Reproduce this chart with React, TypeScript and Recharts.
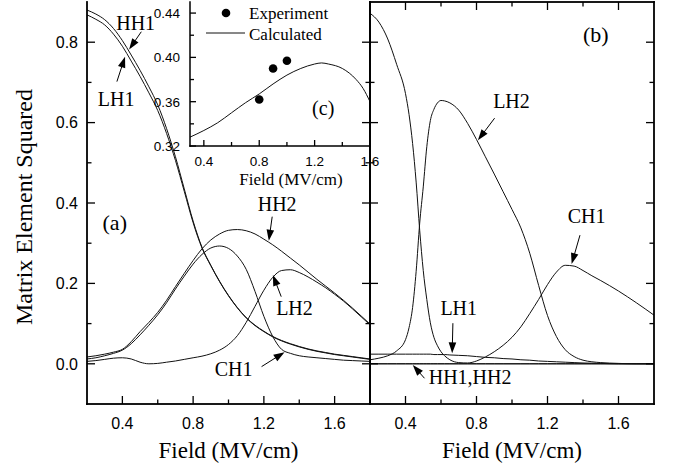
import React from 'react';
import {
  LineChart,
  ComposedChart,
  Line,
  Scatter,
  XAxis,
  YAxis,
  ReferenceLine,
  ReferenceDot,
  Legend,
} from 'recharts';

// ---------------- Panel (a) data ----------------
const fieldA = [0.2, 0.25, 0.3, 0.35, 0.4, 0.45, 0.5, 0.55, 0.6, 0.65, 0.7, 0.75, 0.8, 0.85, 0.9, 0.95, 1.0, 1.05, 1.1, 1.15, 1.2, 1.25, 1.3, 1.35, 1.4, 1.45, 1.5, 1.55, 1.6, 1.65, 1.7, 1.75, 1.8];
const hh1A = [0.880, 0.870, 0.856, 0.834, 0.804, 0.768, 0.730, 0.689, 0.644, 0.585, 0.515, 0.435, 0.355, 0.290, 0.245, 0.205, 0.170, 0.140, 0.115, 0.096, 0.081, 0.068, 0.058, 0.050, 0.043, 0.037, 0.032, 0.028, 0.024, 0.021, 0.018, 0.015, 0.012];
const lh1A = [0.868, 0.857, 0.843, 0.820, 0.790, 0.753, 0.715, 0.674, 0.630, 0.573, 0.506, 0.429, 0.351, 0.288, 0.244, 0.204, 0.169, 0.139, 0.114, 0.095, 0.080, 0.067, 0.057, 0.049, 0.042, 0.036, 0.031, 0.027, 0.023, 0.020, 0.017, 0.014, 0.011];
const hh2A = [0.017, 0.020, 0.024, 0.029, 0.036, 0.055, 0.080, 0.103, 0.128, 0.158, 0.192, 0.225, 0.257, 0.286, 0.308, 0.323, 0.332, 0.334, 0.331, 0.323, 0.310, 0.296, 0.280, 0.263, 0.246, 0.228, 0.210, 0.193, 0.176, 0.158, 0.139, 0.119, 0.099];
const ch1A = [0.012, 0.015, 0.020, 0.026, 0.034, 0.050, 0.072, 0.096, 0.122, 0.152, 0.186, 0.218, 0.248, 0.272, 0.288, 0.293, 0.287, 0.268, 0.235, 0.180, 0.118, 0.068, 0.036, 0.026, 0.020, 0.017, 0.015, 0.013, 0.011, 0.009, 0.008, 0.007, 0.006];
const lh2A = [0.006, 0.008, 0.011, 0.014, 0.015, 0.012, 0.004, 0.000, 0.001, 0.004, 0.007, 0.011, 0.015, 0.019, 0.025, 0.034, 0.048, 0.070, 0.103, 0.143, 0.183, 0.215, 0.232, 0.234, 0.227, 0.216, 0.203, 0.189, 0.173, 0.156, 0.137, 0.117, 0.097];

// ---------------- Panel (b) data ----------------
const fieldB = [0.2, 0.25, 0.3, 0.35, 0.4, 0.42, 0.44, 0.46, 0.48, 0.5, 0.52, 0.54, 0.56, 0.58, 0.6, 0.62, 0.65, 0.7, 0.75, 0.8, 0.85, 0.9, 0.95, 1.0, 1.05, 1.1, 1.15, 1.2, 1.25, 1.3, 1.35, 1.4, 1.45, 1.5, 1.6, 1.7, 1.8];
const ch1B = [0.872, 0.850, 0.808, 0.745, 0.672, 0.620, 0.548, 0.452, 0.332, 0.232, 0.160, 0.102, 0.066, 0.045, 0.030, 0.020, 0.010, 0.003, 0.002, 0.007, 0.017, 0.030, 0.046, 0.066, 0.092, 0.125, 0.160, 0.197, 0.228, 0.245, 0.243, 0.232, 0.219, 0.207, 0.181, 0.152, 0.121];
const lh2B = [0.010, 0.014, 0.020, 0.032, 0.060, 0.090, 0.140, 0.230, 0.350, 0.440, 0.540, 0.605, 0.633, 0.649, 0.655, 0.654, 0.649, 0.631, 0.598, 0.558, 0.515, 0.472, 0.428, 0.384, 0.338, 0.275, 0.195, 0.120, 0.068, 0.035, 0.018, 0.009, 0.005, 0.003, 0.001, 0.000, 0.000];
const lh1B = [0.024, 0.024, 0.024, 0.024, 0.024, 0.024, 0.024, 0.024, 0.024, 0.024, 0.024, 0.024, 0.023, 0.023, 0.023, 0.023, 0.022, 0.021, 0.020, 0.018, 0.016, 0.015, 0.013, 0.012, 0.010, 0.009, 0.007, 0.006, 0.005, 0.004, 0.003, 0.002, 0.0015, 0.001, 0.000, 0.000, 0.000];
const hh1B = [0, 0, 0, 0, 0, 0, 0, 0, 0, 0, 0, 0, 0, 0, 0, 0, 0, 0, 0, 0, 0, 0, 0, 0, 0, 0, 0, 0, 0, 0, 0, 0, 0, 0, 0, 0, 0];
const hh2B = [0, 0, 0, 0, 0, 0, 0, 0, 0, 0, 0, 0, 0, 0, 0, 0, 0, 0, 0, 0, 0, 0, 0, 0, 0, 0, 0, 0, 0, 0, 0, 0, 0, 0, 0, 0, 0];

// ---------------- Inset (c) data ----------------
const fieldC = [0.3, 0.4, 0.5, 0.6, 0.7, 0.8, 0.9, 1.0, 1.1, 1.2, 1.25, 1.3, 1.4, 1.5, 1.55, 1.6];
const calculatedC = [0.328, 0.334, 0.341, 0.350, 0.359, 0.367, 0.376, 0.384, 0.390, 0.394, 0.395, 0.394, 0.390, 0.380, 0.372, 0.360];
const expField = [0.8, 0.9, 1.0];
const expValue = [0.362, 0.390, 0.397];

// ---------------- Axes / ticks ----------------
const mainXDomain = [0.2, 1.8];
const mainYDomain = [-0.1, 0.9];
const insetXDomain = [0.3, 1.6];
const insetYDomain = [0.32, 0.45];
const mainXTicks = [0.4, 0.6, 0.8, 1.0, 1.2, 1.4, 1.6];
const mainXLabels = [0.4, 0.8, 1.2, 1.6];
const mainYTicks = [0, 0.1, 0.2, 0.3, 0.4, 0.5, 0.6, 0.7, 0.8];
const mainYLabels = [0, 0.2, 0.4, 0.6, 0.8];
const insetXTicks = [0.4, 0.6, 0.8, 1.0, 1.2, 1.4, 1.6];
const insetXLabels = [0.4, 0.8, 1.2, 1.6];
const insetYTicks = [0.32, 0.34, 0.36, 0.38, 0.40, 0.42, 0.44];
const insetYLabels = [0.32, 0.36, 0.40, 0.44];

// ---------------- Annotations (data coordinates) ----------------
const annotationsA = [
  { text: 'HH1', tx: 0.475, ty: 0.848, tail: [0.507, 0.826], tip: [0.438, 0.782] },
  { text: 'LH1', tx: 0.365, ty: 0.659, tail: [0.369, 0.702], tip: [0.415, 0.764] },
  { text: 'HH2', tx: 1.275, ty: 0.398, tail: [1.247, 0.366], tip: [1.228, 0.306] },
  { text: 'LH2', tx: 1.373, ty: 0.140, tail: [1.298, 0.167], tip: [1.251, 0.221] },
  { text: 'CH1', tx: 1.029, ty: -0.013, tail: [1.187, -0.007], tip: [1.317, 0.029] },
];
const annotationsB = [
  { text: 'LH2', tx: 0.997, ty: 0.654, tail: [0.902, 0.611], tip: [0.808, 0.556] },
  { text: 'CH1', tx: 1.42, ty: 0.368, tail: [1.383, 0.320], tip: [1.336, 0.248] },
  { text: 'LH1', tx: 0.70, ty: 0.138, tail: [0.667, 0.101], tip: [0.663, 0.026] },
  { text: 'HH1,HH2', tx: 0.764, ty: -0.032, tail: [0.507, -0.036], tip: [0.441, -0.003] },
];

const tableA = fieldA.map((x, i) => ({ x, hh1: hh1A[i], lh1: lh1A[i], hh2: hh2A[i], ch1: ch1A[i], lh2: lh2A[i] }));
const tableB = fieldB.map((x, i) => ({ x, ch1: ch1B[i], lh2: lh2B[i], lh1: lh1B[i], hh1: hh1B[i], hh2: hh2B[i] }));
const tableC = fieldC.map((x, i) => ({ x, y: calculatedC[i] }));
const tableExp = expField.map((x, i) => ({ x, y: expValue[i] }));

// ---------------- Layout (chart boxes and their margins) ----------------
const layoutA = { left: 0, width: 372, height: 464, margin: { top: 2, right: 2, bottom: 0, left: 0 }, yAxisW: 87, xAxisH: 60 };
const layoutB = { left: 368, width: 306, height: 464, margin: { top: 2, right: 20, bottom: 0, left: 2 }, yAxisW: 0, xAxisH: 60 };
const layoutC = { left: 150, width: 234, height: 200, margin: { top: 2, right: 14, bottom: 0, left: 0 }, yAxisW: 40, xAxisH: 54 };
const plotBox = (l: typeof layoutA) => ({
  L: l.left + l.margin.left + l.yAxisW,
  R: l.left + l.width - l.margin.right,
  T: l.margin.top,
  B: l.height - l.margin.bottom - l.xAxisH,
});

const SERIF = '"Liberation Serif", "Times New Roman", Times, serif';
const SANS = '"Liberation Sans", Arial, Helvetica, sans-serif';
const INK = '#000';
const CURVE = '#111';

const near = (arr: number[], v: number) => arr.some((a) => Math.abs(a - v) < 1e-6);

function makeLabel(orient: 'left' | 'bottom', labels: number[], fontSize: number, gap: number, digits: number) {
  return function TickLabel(props: any) {
    const x = Number(props.x);
    const y = Number(props.y);
    const v = Number(props.payload && props.payload.value);
    if (!near(labels, v)) return <g />;
    const txt = v.toFixed(digits);
    if (orient === 'left') {
      return (
        <text x={x - gap} y={y} dy="0.36em" textAnchor="end" fontFamily={SANS} fontSize={fontSize} fill={INK}>
          {txt}
        </text>
      );
    }
    return (
      <text x={x} y={y + gap} textAnchor="middle" fontFamily={SANS} fontSize={fontSize} fill={INK}>
        {txt}
      </text>
    );
  };
}

const mainLeftLabel = makeLabel('left', mainYLabels, 16, 9, 1);
const mainBottomLabel = makeLabel('bottom', mainXLabels, 16, 25, 1);
const insetLeftLabel = makeLabel('left', insetYLabels, 13.5, 10, 2);
const insetBottomLabel = makeLabel('bottom', insetXLabels, 13.5, 20, 1);

function XTitle(props: any) {
  const vb = props.viewBox || {};
  const cx = (vb.x ?? 0) + (vb.width ?? 0) / 2 + (props.shift ?? 0);
  const by = (vb.y ?? 0) + props.baseline;
  return (
    <text x={cx} y={by} textAnchor="middle" fontFamily={SERIF} fontSize={props.size} fill={INK}>
      {props.text}
    </text>
  );
}

function YTitle(props: any) {
  const vb = props.viewBox || {};
  const cx = (vb.x ?? 0) + props.inset;
  const cy = (vb.y ?? 0) + (vb.height ?? 0) / 2 + (props.shift ?? 0);
  return (
    <text
      x={cx}
      y={cy}
      transform={`rotate(-90, ${cx}, ${cy})`}
      textAnchor="middle"
      fontFamily={SERIF}
      fontSize={props.size}
      fill={INK}
    >
      {props.text}
    </text>
  );
}

const ok = (p: any) => [p.x1, p.y1, p.x2, p.y2].every((v: any) => Number.isFinite(v));

const ArrowShape = (p: any) => {
  if (!ok(p)) return null;
  const { x1, y1, x2, y2 } = p;
  const dx = x2 - x1;
  const dy = y2 - y1;
  const L = Math.hypot(dx, dy) || 1;
  const ux = dx / L;
  const uy = dy / L;
  const hl = 11;
  const hw = 3.8;
  const bx = x2 - ux * hl;
  const by = y2 - uy * hl;
  return (
    <g>
      <line x1={x1} y1={y1} x2={bx + ux} y2={by + uy} stroke={INK} strokeWidth={1} />
      <polygon points={`${x2},${y2} ${bx - uy * hw},${by + ux * hw} ${bx + uy * hw},${by - ux * hw}`} fill={INK} />
    </g>
  );
};

interface BoxSpec {
  xd: number[];
  yd: number[];
  xTicks: number[];
  xMajors: number[];
  yTicks: number[];
  yMajors: number[];
  sides: { l?: boolean; r?: boolean; t?: boolean; b?: boolean };
  tickSides: { l?: boolean; r?: boolean; t?: boolean; b?: boolean };
  majorLen: number;
  minorLen: number;
  width: number;
}

// Frame and inward tick marks of one plot box, drawn as filled rectangles
// (same linear mapping as the chart's axes).
function FrameBox(props: { box: { L: number; R: number; T: number; B: number }; s: BoxSpec; id: string }) {
  const { box, s, id } = props;
  const { L, R, T, B } = box;
  const sx = (v: number) => L + ((v - s.xd[0]) / (s.xd[1] - s.xd[0])) * (R - L);
  const sy = (v: number) => B + ((v - s.yd[0]) / (s.yd[1] - s.yd[0])) * (T - B);
  const parts: any[] = [];
  const tw = 1.3;
  const w = s.width;
  const tl = (v: number, maj: number[]) => (near(maj, v) ? s.majorLen : s.minorLen);
  s.xTicks.forEach((v, i) => {
    const X = sx(v);
    const len = tl(v, s.xMajors);
    if (s.tickSides.b) parts.push(<rect key={`${id}-xb-${i}`} x={X - tw / 2} y={B - len} width={tw} height={len} fill={INK} />);
    if (s.tickSides.t) parts.push(<rect key={`${id}-xt-${i}`} x={X - tw / 2} y={T} width={tw} height={len} fill={INK} />);
  });
  s.yTicks.forEach((v, i) => {
    const Y = sy(v);
    const len = tl(v, s.yMajors);
    if (s.tickSides.l) parts.push(<rect key={`${id}-yl-${i}`} x={L} y={Y - tw / 2} width={len} height={tw} fill={INK} />);
    if (s.tickSides.r) parts.push(<rect key={`${id}-yr-${i}`} x={R - len} y={Y - tw / 2} width={len} height={tw} fill={INK} />);
  });
  if (s.sides.l) parts.push(<rect key={`${id}-fl`} x={L - w / 2} y={T - w / 2} width={w} height={B - T + w} fill={INK} />);
  if (s.sides.r) parts.push(<rect key={`${id}-fr`} x={R - w / 2} y={T - w / 2} width={w} height={B - T + w} fill={INK} />);
  if (s.sides.b) parts.push(<rect key={`${id}-fb`} x={L - w / 2} y={B - w / 2} width={R - L + w} height={w} fill={INK} />);
  if (s.sides.t) parts.push(<rect key={`${id}-ft`} x={L - w / 2} y={T - w / 2} width={R - L + w} height={w} fill={INK} />);
  return <g>{parts}</g>;
}

const textShape = (label: string, size: number) => (p: any) => (
  <text x={p.cx} y={p.cy} dy="0.35em" textAnchor="middle" fontFamily={SERIF} fontSize={size} fill={INK}>
    {label}
  </text>
);

function renderAnnotations(list: typeof annotationsA, prefix: string) {
  const out: any[] = [];
  list.forEach((a, i) => {
    out.push(
      <ReferenceLine
        key={`${prefix}-arrow-${i}`}
        segment={[{ x: a.tail[0], y: a.tail[1] }, { x: a.tip[0], y: a.tip[1] }]}
        shape={ArrowShape}
        ifOverflow="visible"
      />
    );
    out.push(
      <ReferenceDot key={`${prefix}-text-${i}`} x={a.tx} y={a.ty} r={1} ifOverflow="visible" shape={textShape(a.text, 20)} />
    );
  });
  return out;
}

function InsetLegend() {
  return (
    <svg width={222} height={46} style={{ display: 'block' }}>
      <circle cx={76} cy={13} r={4.3} fill={INK} />
      <text x={99} y={13} dy="0.35em" fontFamily={SERIF} fontSize={17} fill={INK}>
        Experiment
      </text>
      <line x1={56} y1={33} x2={95} y2={33} stroke={CURVE} strokeWidth={1} />
      <text x={99} y={34} dy="0.35em" fontFamily={SERIF} fontSize={17} fill={INK}>
        Calculated
      </text>
    </svg>
  );
}

const lineProps = {
  type: 'monotone' as const,
  stroke: CURVE,
  strokeWidth: 1,
  dot: false,
  activeDot: false,
  isAnimationActive: false,
};

const axisCommon = {
  type: 'number' as const,
  interval: 0 as const,
  tickSize: 0,
  tickMargin: 0,
  tickLine: false,
  axisLine: false,
};

const boxA: BoxSpec = {
  xd: mainXDomain, yd: mainYDomain, xTicks: mainXTicks, xMajors: mainXLabels, yTicks: mainYTicks, yMajors: mainYLabels,
  sides: { l: true, r: true, b: true }, tickSides: { l: true, r: true, b: true }, majorLen: 8, minorLen: 4.5, width: 1.8,
};
const boxB: BoxSpec = {
  xd: mainXDomain, yd: mainYDomain, xTicks: mainXTicks, xMajors: mainXLabels, yTicks: mainYTicks, yMajors: mainYLabels,
  sides: { l: true, r: true, b: true, t: true }, tickSides: { l: true, r: true, b: true, t: true }, majorLen: 8, minorLen: 4.5, width: 1.8,
};
const boxC: BoxSpec = {
  xd: insetXDomain, yd: insetYDomain, xTicks: insetXTicks, xMajors: insetXLabels, yTicks: insetYTicks, yMajors: insetYLabels,
  sides: { l: true, b: true }, tickSides: { l: true, b: true }, majorLen: 6, minorLen: 4, width: 1.5,
};

export default function App() {
  return (
    <div style={{ position: 'absolute', left: 0, top: 0, width: 674, height: 464, background: '#fff' }}>
      {/* Panel (a) */}
      <div style={{ position: 'absolute', left: layoutA.left, top: 0, zIndex: 1 }}>
        <LineChart width={layoutA.width} height={layoutA.height} data={tableA} margin={layoutA.margin}>
          <XAxis
            {...axisCommon}
            dataKey="x"
            domain={mainXDomain}
            ticks={mainXTicks}
            height={layoutA.xAxisH}
            tick={mainBottomLabel}
            label={<XTitle text="Field (MV/cm)" size={23} baseline={54} />}
          />
          <YAxis
            {...axisCommon}
            domain={mainYDomain}
            ticks={mainYTicks}
            width={layoutA.yAxisW}
            tick={mainLeftLabel}
            label={<YTitle text="Matrix Element Squared" size={24} inset={32} shift={4} />}
          />
          <Line dataKey="hh1" {...lineProps} />
          <Line dataKey="lh1" {...lineProps} />
          <Line dataKey="hh2" {...lineProps} />
          <Line dataKey="ch1" {...lineProps} />
          <Line dataKey="lh2" {...lineProps} />
          {renderAnnotations(annotationsA, 'a')}
          <ReferenceDot x={0.357} y={0.351} r={1} ifOverflow="visible" shape={textShape('(a)', 22)} />
        </LineChart>
      </div>

      {/* Panel (b) */}
      <div style={{ position: 'absolute', left: layoutB.left, top: 0, zIndex: 1 }}>
        <LineChart width={layoutB.width} height={layoutB.height} data={tableB} margin={layoutB.margin}>
          <XAxis
            {...axisCommon}
            dataKey="x"
            domain={mainXDomain}
            ticks={mainXTicks}
            height={layoutB.xAxisH}
            tick={mainBottomLabel}
            label={<XTitle text="Field (MV/cm)" size={23} baseline={54} />}
          />
          <YAxis {...axisCommon} domain={mainYDomain} ticks={mainYTicks} width={layoutB.yAxisW} tick={false} />
          <Line dataKey="ch1" {...lineProps} />
          <Line dataKey="lh2" {...lineProps} />
          <Line dataKey="lh1" {...lineProps} />
          <Line dataKey="hh1" {...lineProps} />
          <Line dataKey="hh2" {...lineProps} />
          {renderAnnotations(annotationsB, 'b')}
          <ReferenceDot x={1.472} y={0.82} r={1} ifOverflow="visible" shape={textShape('(b)', 22)} />
        </LineChart>
      </div>

      {/* Inset (c) */}
      <div style={{ position: 'absolute', left: layoutC.left, top: 0, zIndex: 2 }}>
        <ComposedChart width={layoutC.width} height={layoutC.height} data={tableC} margin={layoutC.margin}>
          <XAxis
            {...axisCommon}
            dataKey="x"
            domain={insetXDomain}
            ticks={insetXTicks}
            height={layoutC.xAxisH}
            tick={insetBottomLabel}
            label={<XTitle text="Field (MV/cm)" size={17} baseline={39} shift={11} />}
          />
          <YAxis
            {...axisCommon}
            dataKey="y"
            domain={insetYDomain}
            ticks={insetYTicks}
            width={layoutC.yAxisW}
            tick={insetLeftLabel}
          />
          <Line dataKey="y" {...lineProps} />
          <Scatter
            data={tableExp}
            dataKey="y"
            fill={INK}
            isAnimationActive={false}
            shape={(p: any) => <circle cx={p.cx} cy={p.cy} r={4.3} fill={INK} />}
          />
          <ReferenceDot x={1.262} y={0.354} r={1} ifOverflow="visible" shape={textShape('(c)', 20)} />
          <Legend
            verticalAlign="middle"
            align="center"
            layout="horizontal"
            wrapperStyle={{ left: 0, top: 0, width: 222, height: 46 }}
            content={() => <InsetLegend />}
          />
        </ComposedChart>
      </div>

      {/* Frames and inward tick marks, placed on the same plot boxes as the charts above */}
      <svg
        width={674}
        height={464}
        style={{ position: 'absolute', left: 0, top: 0, pointerEvents: 'none', overflow: 'visible', zIndex: 10 }}
      >
        <FrameBox box={plotBox(layoutA)} s={boxA} id="a" />
        <FrameBox box={plotBox(layoutB)} s={boxB} id="b" />
        <FrameBox box={plotBox(layoutC)} s={boxC} id="c" />
      </svg>
    </div>
  );
}
